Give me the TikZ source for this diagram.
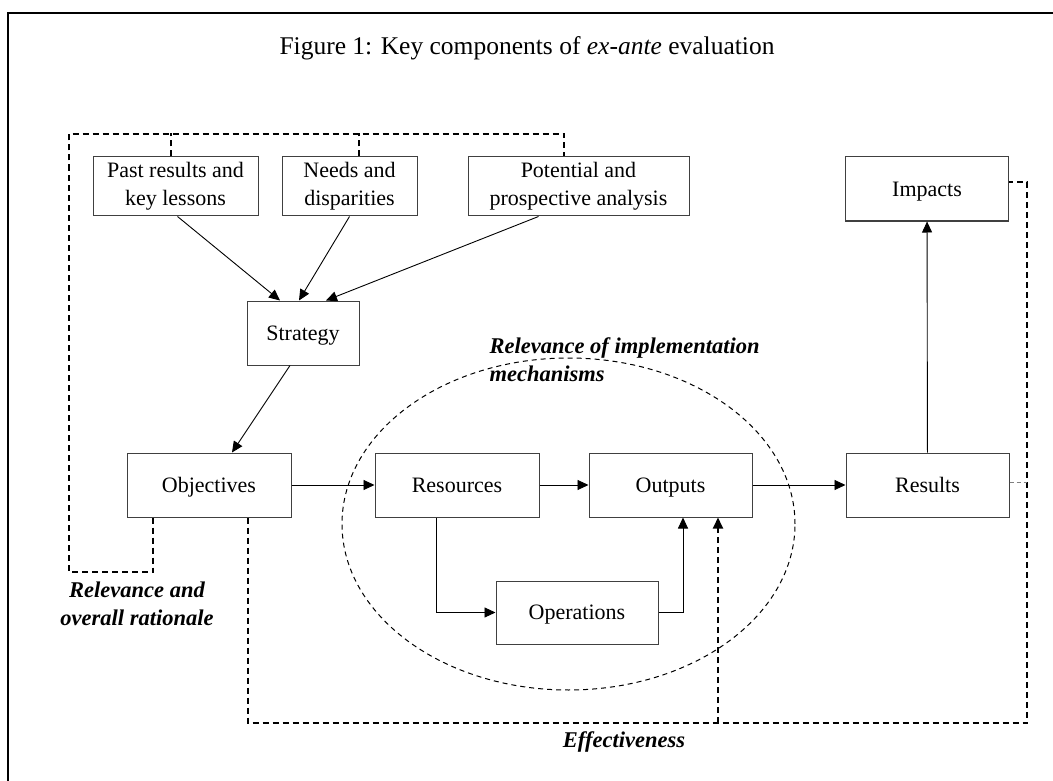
\documentclass[tikz,border=0pt]{standalone}
\usepackage{fontspec}
\setmainfont{Liberation Serif}
\usepackage{tikz}
\usetikzlibrary{arrows.meta, positioning}
\definecolor{BoxLine}{HTML}{404040}

\begin{document}
\begin{tikzpicture}[x=1pt, y=-1pt,
    box/.style={draw=BoxLine, line width=1pt, inner sep=0pt, align=center,
        minimum height=64pt, font=\fontsize{22}{28}\selectfont},
    single/.style={box, text height=15pt, text depth=0.5pt},
    link/.style={line width=0.9pt, -{Triangle[length=11pt, width=10pt]}},
    feedback/.style={line width=1.8pt, dash pattern=on 6pt off 4pt},
    note/.style={font=\fontsize{22.5}{28}\selectfont\bfseries\itshape}]
    \useasboundingbox (0,0) rectangle (1053,781);
    \draw[line width=1.7pt] (8,800) -- (8,13) -- (1070,13);
    \node (title) at (527,48) {\fontsize{25.5}{30}\selectfont Figure 1: Key components of \textit{ex-ante} evaluation};

    % Top row
    \node[box, minimum width=165pt, minimum height=59pt] (past) at (175.5,186.5) {Past results and\\key lessons};
    \node[box, minimum width=135pt, minimum height=59pt] (needs) at (349.5,186.5) {Needs and\\disparities};
    \node[box, minimum width=221pt, minimum height=59pt] (potential) at (578.5,186.5) {Potential and\\prospective analysis};
    \node[single, minimum width=163pt] (impacts) at (927,189) {Impacts};

    % Middle
    \node[single, minimum width=112pt] (strategy) at (303,333) {Strategy};
    \node[single, minimum width=164pt] (objectives) at (209,485) {Objectives};
    \node[single, minimum width=164pt] (resources) at (457,485) {Resources};
    \node[single, minimum width=163pt] (outputs) at (670.5,485) {Outputs};
    \node[single, minimum width=163pt] (results) at (927.5,485) {Results};
    \node[single, minimum width=162pt, minimum height=63pt] (operations) at (577,612.5) {Operations};

    % Implementation mechanisms
    \draw[line width=1pt, dash pattern=on 5pt off 4pt] (568.5,524) ellipse [x radius=226.5pt, y radius=166pt];
    \node[note, align=left, anchor=north west] (mech) at (486,334) {Relevance of implementation\\mechanisms};

    % Solid links
    \draw[link] ([xshift=2pt]past.south) -- ([xshift=-23pt]strategy.north);
    \draw[link] (needs.south) -- ([xshift=-4pt]strategy.north);
    \draw[link] ([xshift=-40pt]potential.south) -- ([xshift=23pt]strategy.north);
    \draw[link] ([xshift=-13pt]strategy.south) -- ([xshift=23pt]objectives.north);
    \draw[link] (objectives) -- (resources);
    \draw[link] (resources) -- (outputs);
    \draw[link] ([xshift=-21pt]resources.south) |- (operations);
    \draw[link] (operations) -| ([xshift=12.5pt]outputs.south);
    \draw[link] (outputs) -- (results);
    \draw[link] (results) -- (impacts);

    % Dashed feedback lines
    \coordinate (topleft) at (69,134);
    \coordinate (effjoin) at (718,723);
    \draw[feedback] ([xshift=-56pt]objectives.south) |- (69,572) -- (topleft) -| ([xshift=-14.5pt]potential.north);
    \draw[feedback] ([xshift=-4.5pt]past.north) -- ++(0,-23);
    \draw[feedback] ([xshift=9.5pt]needs.north) -- ++(0,-23);
    \draw[feedback] ([xshift=39pt]objectives.south) |- (1027,723) |- ([yshift=7pt]impacts.east);
    \draw[feedback, -{Triangle[length=11pt, width=10pt]}] (effjoin) -- ([xshift=47.5pt]outputs.south);
    \draw[line width=1pt, gray, dash pattern=on 4pt off 3pt] ([yshift=3pt]results.east) -- (1027,482);

    % Labels
    \node[note, align=center] (rationale) at (137,604) {Relevance and\\overall rationale};
    \node[note] (effect) at (624,742) {Effectiveness};
\end{tikzpicture}
\end{document}
